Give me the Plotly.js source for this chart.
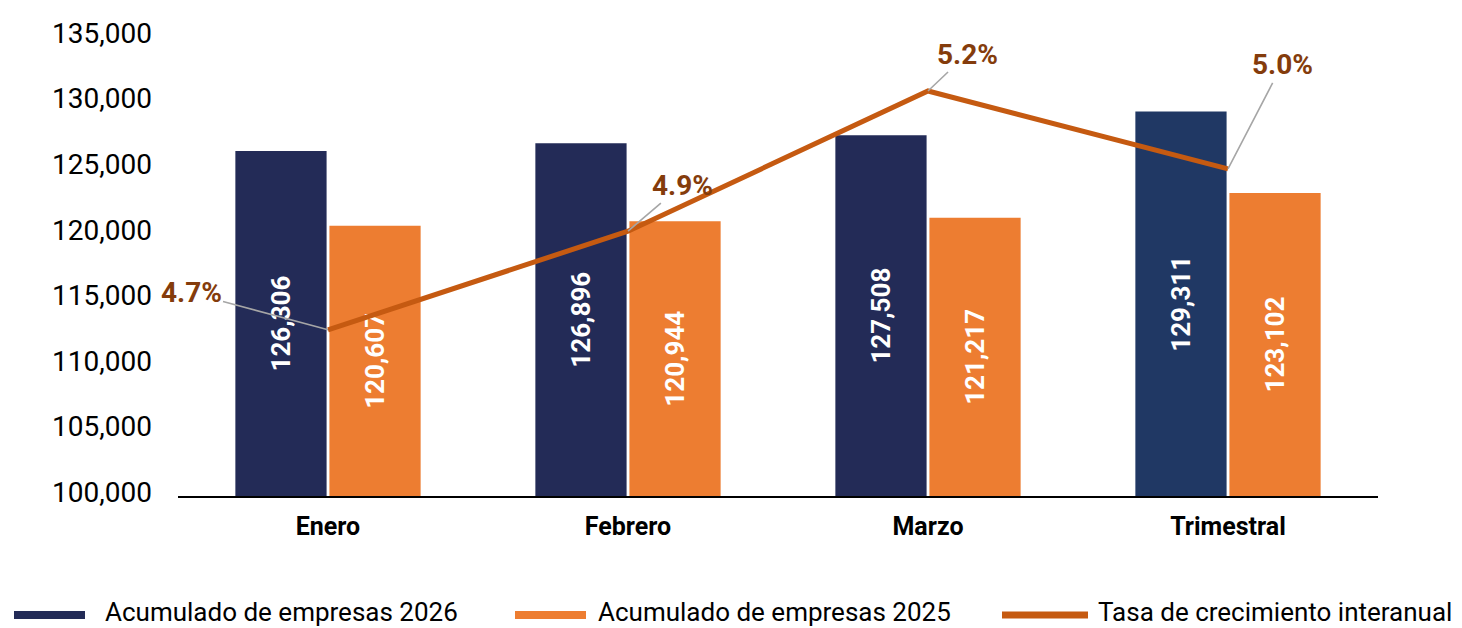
<!DOCTYPE html>
<html>
<head>
<meta charset="utf-8">
<script src="https://cdn.plot.ly/plotly-3.0.1.min.js"></script>
<style>html,body{margin:0;padding:0;background:#fff;}#chart{width:1462px;height:628px;}</style>
</head>
<body>
<div id="chart"></div>
<script>
const categories = ['Enero', 'Febrero', 'Marzo', 'Trimestral'];
const empresas2026 = [126306, 126896, 127508, 129311];
const empresas2025 = [120607, 120944, 121217, 123102];
const tasaCrecimiento = [4.73, 4.92, 5.19, 5.04];
const yTickVals = [100000, 105000, 110000, 115000, 120000, 125000, 130000, 135000];
const seriesNames = ['Acumulado de empresas 2026', 'Acumulado de empresas 2025', 'Tasa de crecimiento interanual'];

const navy = '#232B57', navy2 = '#203864', orange = '#ED7D31', lineCol = '#C55A11', labelCol = '#843C0C';
const W = 1462, H = 628;
const M = {l: 178, r: 84, t: 37, b: 132};
const axisMin = yTickVals[0], axisMax = yTickVals[yTickVals.length - 1];
const px = x => (x - M.l) / (W - M.l - M.r);
const py = y => (H - M.b - y) / (H - M.t - M.b);

// bars start at the axis minimum (as in the original), so labels centre in the visible bar
const barTrace = (name, vals, color) => ({
  type: 'bar', name: name, x: categories,
  base: axisMin, y: vals.map(v => v - axisMin), customdata: vals,
  marker: {color: color},
  texttemplate: '%{customdata:,.0f}', textposition: 'inside', insidetextanchor: 'middle',
  textangle: -90, constraintext: 'none',
  textfont: {family: 'Roboto', size: 26, color: '#FFFFFF', weight: 'bold'},
  showlegend: false, hoverinfo: 'skip'
});

const traces = [
  barTrace(seriesNames[0], empresas2026, categories.map((c, i) => i === 3 ? navy2 : navy)),
  barTrace(seriesNames[1], empresas2025, orange),
  {
    type: 'scatter', mode: 'lines', name: seriesNames[2], x: categories, y: tasaCrecimiento,
    yaxis: 'y2', line: {color: lineCol, width: 5},
    showlegend: false, hoverinfo: 'skip'
  }
];

const labelOffsets = [[-137, -37], [54, -46], [39, -37], [54, -104]];
const annotations = categories.map((c, i) => ({
  x: c, y: tasaCrecimiento[i], xref: 'x', yref: 'y2',
  text: tasaCrecimiento[i].toFixed(1) + '%',
  showarrow: true, arrowhead: 0, arrowwidth: 1.6, arrowcolor: '#A6A6A6', standoff: 0,
  ax: labelOffsets[i][0], ay: labelOffsets[i][1],
  font: {family: 'Roboto', size: 28, color: labelCol, weight: 'bold'}
}));

// custom legend
const legendItems = [
  {x0: 14, x1: 85, tx: 103, color: navy, kind: 'rect'},
  {x0: 515, x1: 586, tx: 596, color: orange, kind: 'rect'},
  {x0: 1002, x1: 1088, tx: 1096, color: lineCol, kind: 'line'}
];
const shapes = [];
legendItems.forEach((it, i) => {
  if (it.kind === 'rect') {
    shapes.push({type: 'rect', xref: 'paper', yref: 'paper', x0: px(it.x0), x1: px(it.x1),
      y0: py(619), y1: py(611), fillcolor: it.color, line: {width: 0}});
  } else {
    shapes.push({type: 'line', xref: 'paper', yref: 'paper', x0: px(it.x0), x1: px(it.x1),
      y0: py(615), y1: py(615), line: {color: it.color, width: 7}});
  }
  annotations.push({xref: 'paper', yref: 'paper', x: px(it.tx), y: py(612),
    xanchor: 'left', yanchor: 'middle', showarrow: false, text: seriesNames[i],
    font: {family: 'Roboto', size: 26, color: '#000000'}});
});

const layout = {
  width: W, height: H, margin: M,
  paper_bgcolor: '#FFFFFF', plot_bgcolor: '#FFFFFF',
  barmode: 'group', bargap: 0.373, bargroupgap: 0.03,
  showlegend: false,
  font: {family: 'Roboto', color: '#000000'},
  xaxis: {
    type: 'category', range: [-0.5, categories.length - 0.5], autorange: false,
    showline: true, linecolor: '#000000', linewidth: 2,
    showgrid: false, zeroline: false, ticks: '',
    tickfont: {family: 'Roboto', size: 25, color: '#000000', weight: 'bold'},
    ticklabelstandoff: 7
  },
  yaxis: {
    range: [axisMin, axisMax], autorange: false, tickvals: yTickVals, tickformat: ',.0f',
    showgrid: false, zeroline: false, showline: false, ticks: '',
    tickfont: {family: 'Roboto', size: 28, color: '#000000'},
    ticklabelstandoff: 25, ticklabelshift: -4
  },
  yaxis2: {
    overlaying: 'y', side: 'right', range: [4.41, 5.294], autorange: false, visible: false,
    showgrid: false, zeroline: false
  },
  annotations: annotations,
  shapes: shapes
};

Plotly.newPlot('chart', traces, layout, {displayModeBar: false, staticPlot: true});
</script>
</body>
</html>
